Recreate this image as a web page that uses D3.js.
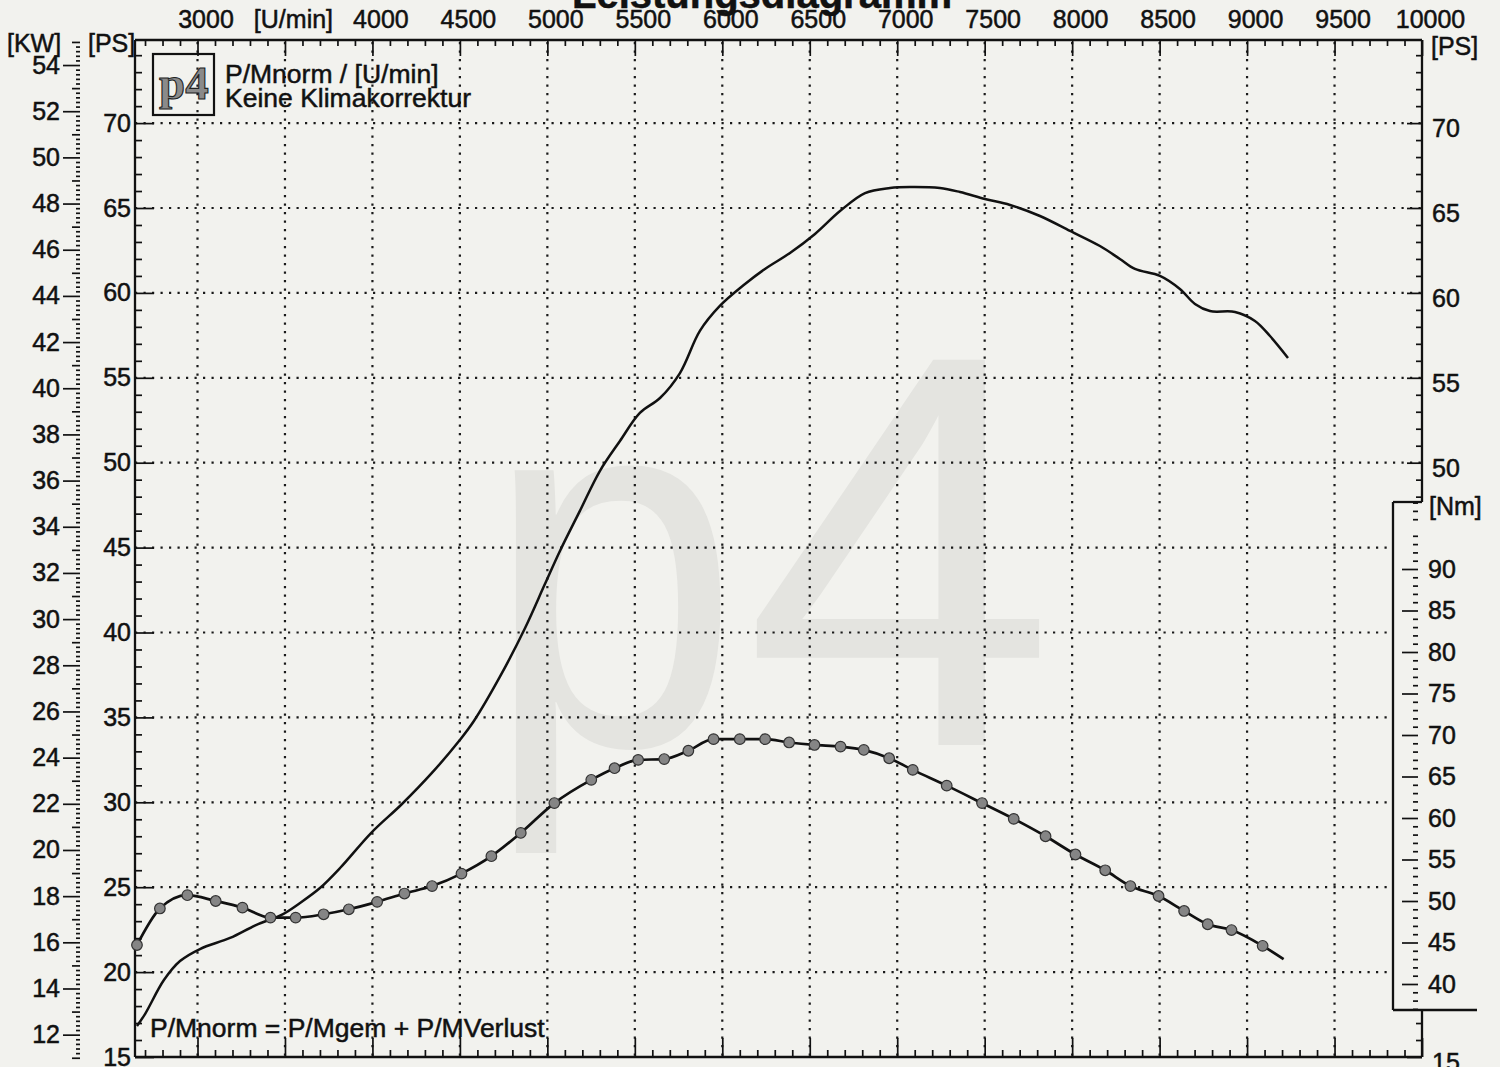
<!DOCTYPE html>
<html><head><meta charset="utf-8">
<script src="https://cdn.jsdelivr.net/npm/d3@7/dist/d3.min.js"></script>
<style>
html,body{margin:0;padding:0;background:#f2f2ee;}
svg{display:block;font-family:"Liberation Sans",Arial,sans-serif;}
.axis path{display:none}
.axis line{stroke:#111;stroke-width:1.7}
.axis text{font-size:25px;fill:#111;stroke:#111;stroke-width:0.5;font-family:"Liberation Sans",Arial,sans-serif}
.lbl{stroke:#111;stroke-width:0.5}
</style></head><body>
<svg id="chart" width="1500" height="1067"></svg>
<script>
// ---------- data ----------
const titleText = "Leistungsdiagramm";
const rpmTickValues = [3000,3500,4000,4500,5000,5500,6000,6500,7000,7500,8000,8500,9000,9500,10000];
const rpmTickLabels = ["3000","[U/min]","4000","4500","5000","5500","6000","6500","7000","7500","8000","8500","9000","9500","10000"];
const psLeftTicks = [15,20,25,30,35,40,45,50,55,60,65,70];
const psRightTicks = [15,50,55,60,65,70];
const kwTicks = [12,14,16,18,20,22,24,26,28,30,32,34,36,38,40,42,44,46,48,50,52,54];
const nmTicks = [40,45,50,55,60,65,70,75,80,85,90];

// Leistung [PS] über Drehzahl [U/min]
const powerRpm = [2654,2700,2808,2900,3014,3186,3334,3489,3586,3700,3815,3992,4169,4340,4495,4580,4729,4872,4986,5072,5186,5300,5415,5529,5644,5758,5872,5986,6130,6244,6387,6530,6673,6816,6959,7073,7244,7359,7502,7645,7816,7988,8159,8273,8359,8502,8616,8702,8788,8931,9045,9131,9234];
const powerPS  = [16.83,17.53,19.53,20.65,21.36,22.01,22.77,23.42,24.07,24.95,26.13,28.19,29.90,31.73,33.61,34.79,37.40,40.25,42.85,44.80,47.16,49.51,51.28,52.93,53.81,55.28,57.76,59.23,60.52,61.41,62.35,63.47,64.82,65.88,66.18,66.24,66.18,65.94,65.53,65.18,64.53,63.65,62.76,62.00,61.41,61.00,60.23,59.35,58.93,58.88,58.35,57.46,56.17];

// Drehmoment [Nm] über Drehzahl [U/min]
const torqueRpm = [2654,2785,2942,3104,3257,3417,3561,3721,3865,4027,4183,4341,4509,4680,4848,5040,5251,5384,5519,5668,5806,5950,6100,6245,6382,6527,6676,6809,6954,7089,7283,7485,7666,7848,8019,8189,8333,8494,8640,8775,8911,9089,9209];
const torqueNm  = [44.7,49.1,50.7,50.0,49.2,48.0,48.0,48.4,49.0,49.9,50.9,51.8,53.3,55.4,58.2,61.8,64.6,66.0,67.0,67.1,68.1,69.5,69.5,69.5,69.1,68.8,68.6,68.2,67.2,65.8,63.9,61.8,59.9,57.8,55.6,53.7,51.8,50.6,48.8,47.2,46.5,44.6,43.0];

// ---------- layout ----------
const L = 135, R = 1422, T = 40, B = 1057;
const NM_TOP = 502, NM_BOT = 1010, NM_LEFT = 1393, NM_TICK_X = 1418;
const PS_PER_KW = 1/0.7355;

const svg = d3.select("#chart");
svg.append("rect").attr("width",1500).attr("height",1067).attr("fill","#f2f2ee");

const x = d3.scaleLinear().domain([3000,10000]).range([197.5, R]);
const yPS = d3.scaleLinear().domain([15,70]).range([B, 123.1]);
const yKW = d3.scaleLinear().domain([15/PS_PER_KW, 70/PS_PER_KW]).range([B, 123.1]);
const yNm = d3.scaleLinear().domain([40,90]).range([984, 569]);

// watermark
const wm = svg.append("g").attr("fill","#e4e4e0").style("font-family","'Liberation Sans',Arial,sans-serif");
wm.append("text").attr("transform","translate(515,745) scale(0.88,1)").attr("x",-34).attr("y",0)
  .attr("font-size",520).text("p");
wm.append("text").attr("x",744).attr("y",745).attr("font-size",560).text("4");

// title (cut at top edge)
svg.append("text").attr("class","lbl").attr("x",762).attr("y",8).attr("text-anchor","middle")
  .attr("font-size",40).attr("font-weight","bold").attr("fill","#111").text(titleText);

// grid
const grid = svg.append("g").attr("stroke","#1a1a1a").attr("stroke-width",2.2).attr("stroke-dasharray","2.2 6.3");
rpmTickValues.filter(v => v < 10000).forEach(v => {
  grid.append("line").attr("x1",x(v)).attr("x2",x(v)).attr("y1",T+2).attr("y2",B);
});
psLeftTicks.filter(v => v > 15).forEach(v => {
  const yy = yPS(v);
  grid.append("line").attr("x1",L).attr("x2", yy > NM_TOP ? NM_LEFT : R).attr("y1",yy).attr("y2",yy);
});

// frame
const frame = svg.append("g").attr("stroke","#111").attr("stroke-width",2.3).attr("fill","none");
frame.append("line").attr("x1",L).attr("x2",R).attr("y1",T).attr("y2",T);
frame.append("line").attr("x1",L).attr("x2",R).attr("y1",B).attr("y2",B);
frame.append("line").attr("x1",L).attr("x2",L).attr("y1",T).attr("y2",B);
frame.append("line").attr("x1",R).attr("x2",R).attr("y1",T).attr("y2",NM_TOP);
frame.append("line").attr("x1",R).attr("x2",R).attr("y1",NM_BOT).attr("y2",B);
frame.append("line").attr("x1",NM_LEFT).attr("x2",R).attr("y1",NM_TOP).attr("y2",NM_TOP);
frame.append("line").attr("x1",NM_LEFT).attr("x2",NM_LEFT).attr("y1",NM_TOP).attr("y2",NM_BOT);
frame.append("line").attr("x1",NM_LEFT).attr("x2",1477).attr("y1",NM_BOT).attr("y2",NM_BOT);

// top axis
const minorRpm = d3.range(2700, 10001, 100).filter(v => v % 500 !== 0);
svg.append("g").attr("class","axis").attr("transform",`translate(0,${T})`)
  .call(d3.axisTop(x).tickValues(minorRpm).tickSizeInner(-6).tickSizeOuter(0).tickFormat(""));
svg.append("g").attr("class","axis top-major").attr("transform",`translate(0,${T})`)
  .call(d3.axisTop(x).tickValues(rpmTickValues).tickSizeInner(-16).tickSizeOuter(0).tickPadding(12)
    .tickFormat((d,i) => rpmTickLabels[i]))
  .selectAll("text").attr("dx", 8);

// bottom axis
svg.append("g").attr("class","axis").attr("transform",`translate(0,${B})`)
  .call(d3.axisBottom(x).tickValues(minorRpm).tickSizeInner(-7).tickSizeOuter(0).tickFormat(""));
svg.append("g").attr("class","axis").attr("transform",`translate(0,${B})`)
  .call(d3.axisBottom(x).tickValues(rpmTickValues).tickSizeInner(-19).tickSizeOuter(0).tickFormat(""));

// left PS axis
const minorPS = d3.range(15, 75).filter(v => v % 5 !== 0);
svg.append("g").attr("class","axis").attr("transform",`translate(${L},0)`)
  .call(d3.axisLeft(yPS).tickValues(minorPS).tickSizeInner(-7).tickSizeOuter(0).tickFormat(""));
svg.append("g").attr("class","axis").attr("transform",`translate(${L},0)`)
  .call(d3.axisLeft(yPS).tickValues(psLeftTicks).tickSizeInner(-19).tickSizeOuter(0).tickPadding(4));

// right PS axis
const minorPSRight = minorPS.filter(v => yPS(v) < NM_TOP - 3 || yPS(v) > NM_BOT + 3);
svg.append("g").attr("class","axis").attr("transform",`translate(${R},0)`)
  .call(d3.axisRight(yPS).tickValues(minorPSRight).tickSizeInner(-6).tickSizeOuter(0).tickFormat(""));
svg.append("g").attr("class","axis").attr("transform",`translate(${R},0)`)
  .call(d3.axisRight(yPS).tickValues(psRightTicks).tickSizeInner(-15).tickSizeOuter(0).tickPadding(10))
  .selectAll("text").attr("dy","0.55em");

// Nm axis
const minorNm = d3.range(37, 99).filter(v => v % 5 !== 0);
svg.append("g").attr("class","axis").attr("transform",`translate(${NM_TICK_X},0)`)
  .call(d3.axisRight(yNm).tickValues(minorNm).tickSizeInner(-5).tickSizeOuter(0).tickFormat(""));
svg.append("g").attr("class","axis").attr("transform",`translate(${NM_TICK_X},0)`)
  .call(d3.axisRight(yNm).tickValues(nmTicks).tickSizeInner(-16).tickSizeOuter(0).tickPadding(10));

// kW axis (ruler)
const KWX = 80;
const kwFine = d3.range(11, 55.01, 0.2).map(v => +v.toFixed(1)).filter(v => Math.abs(v - Math.round(v)) > 0.01);
const kwMid = d3.range(11, 56).filter(v => v % 2 !== 0);
svg.append("g").attr("class","axis").attr("transform",`translate(${KWX},0)`)
  .call(d3.axisLeft(yKW).tickValues(kwFine).tickSizeInner(4).tickSizeOuter(0).tickFormat(""))
  .selectAll("line").attr("stroke-width",1.4);
svg.append("g").attr("class","axis").attr("transform",`translate(${KWX},0)`)
  .call(d3.axisLeft(yKW).tickValues(kwMid).tickSizeInner(8).tickSizeOuter(0).tickFormat(""));
svg.append("g").attr("class","axis").attr("transform",`translate(${KWX},0)`)
  .call(d3.axisLeft(yKW).tickValues(kwTicks).tickSizeInner(17).tickSizeOuter(0).tickPadding(3));

// unit labels
const unit = svg.append("g").attr("class","lbl").attr("font-size",25).attr("fill","#111");
unit.append("text").attr("x",7).attr("y",52).text("[KW]");
unit.append("text").attr("x",88).attr("y",52).text("[PS]");
unit.append("text").attr("x",1431).attr("y",55).text("[PS]");
unit.append("text").attr("x",1429).attr("y",515).text("[Nm]");

// logo box and notes
const logo = svg.append("g");
logo.append("rect").attr("x",153).attr("y",54).attr("width",61).attr("height",61)
  .attr("fill","none").attr("stroke","#111").attr("stroke-width",2.2);
logo.append("text").attr("x",159).attr("y",99).attr("font-size",47).attr("font-weight","bold")
  .style("font-family","'Liberation Serif','DejaVu Serif',serif")
  .attr("fill","#8a8a8a").attr("stroke","#222").attr("stroke-width",1.1).text("p4");
const notes = svg.append("g").attr("class","lbl").attr("font-size",26.5).attr("fill","#111");
notes.append("text").attr("x",225).attr("y",83).text("P/Mnorm / [U/min]");
notes.append("text").attr("x",225).attr("y",107).text("Keine Klimakorrektur");
notes.append("text").attr("x",150).attr("y",1037).text("P/Mnorm = P/Mgem + P/MVerlust");

// curves
const powerLine = d3.line().x(d => x(d[0])).y(d => yPS(d[1])).curve(d3.curveCatmullRom.alpha(0.5));
svg.append("path").datum(powerRpm.map((r,i) => [r, powerPS[i]]))
  .attr("d", powerLine).attr("fill","none").attr("stroke","#111").attr("stroke-width",2.5);

const torqueData = torqueRpm.map((r,i) => [r, torqueNm[i]]);
const torqueLine = d3.line().x(d => x(d[0])).y(d => yNm(d[1])).curve(d3.curveMonotoneX);
svg.append("path").datum(torqueData)
  .attr("d", torqueLine).attr("fill","none").attr("stroke","#111").attr("stroke-width",2.7);
svg.append("g").selectAll("circle").data(torqueData.slice(0, -1)).join("circle")
  .attr("cx", d => x(d[0])).attr("cy", d => yNm(d[1])).attr("r", 5.3)
  .attr("fill","#858585").attr("stroke","#333").attr("stroke-width",1.2);
</script>
</body></html>
